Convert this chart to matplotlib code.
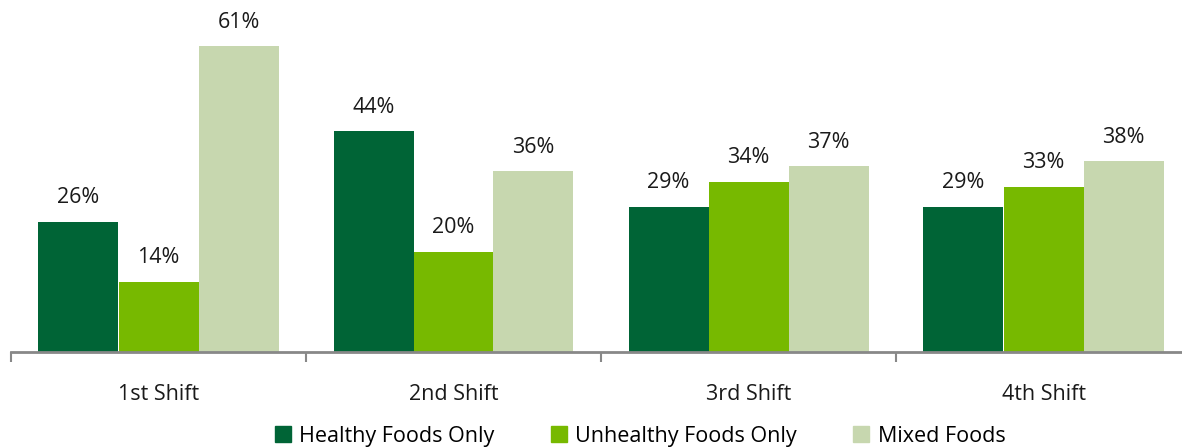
import numpy as np
import matplotlib.pyplot as plt
from matplotlib.patches import Patch

# data
shifts = ["1st Shift", "2nd Shift", "3rd Shift", "4th Shift"]
healthy = [26, 44, 29, 29]
unhealthy = [14, 20, 34, 33]
mixed = [61, 36, 37, 38]
series_names = ["Healthy Foods Only", "Unhealthy Foods Only", "Mixed Foods"]
colors = ["#006436", "#77B900", "#C7D7AF"]

plt.rcParams['font.family'] = ['Open Sans', 'DejaVu Sans']

fig = plt.figure(figsize=(11.82, 4.48), dpi=100)
ax = fig.add_axes([11/1182, 96/448, 1180/1182, 351/448])

x = np.arange(len(shifts))
w = 80/295
for k, vals in enumerate([healthy, unhealthy, mixed]):
    pos = x + (k - 1) * w
    # antialiasing off so neighbouring bars touch without a white seam
    ax.bar(pos, vals, width=w, color=colors[k], label=series_names[k], linewidth=0,
           antialiased=False)
    for p, v in zip(pos, vals):
        ax.text(p, v + 2.7, f"{v}%", ha='center', va='bottom', fontsize=15.5, color='#1a1a1a')

ax.set_xlim(-0.5, 3.5)
ax.set_ylim(0, 70)
ax.set_yticks([])
for s in ['top', 'right', 'left']:
    ax.spines[s].set_visible(False)
ax.spines['bottom'].set_color('#888888')
ax.spines['bottom'].set_linewidth(2)

# ticks at group boundaries, labels at centres
ax.set_xticks(np.arange(-0.5, 4.0, 1.0))
ax.set_xticklabels([])
ax.tick_params(axis='x', length=7, width=1.5, color='#888888')
for xi, lab in zip(x, shifts):
    ax.text(xi, -0.12, lab, transform=ax.get_xaxis_transform(), ha='center', va='center',
            fontsize=15.5, color='#1a1a1a')

handles = [Patch(color=c) for c in colors]
fig.legend(handles, series_names, loc='center', bbox_to_anchor=(640/1182, 12/448), ncol=3,
           frameon=False, fontsize=15.5, handlelength=0.75, handleheight=0.75, handletextpad=0.4,
           columnspacing=2.6)

fig.savefig("out.png", dpi=100)
